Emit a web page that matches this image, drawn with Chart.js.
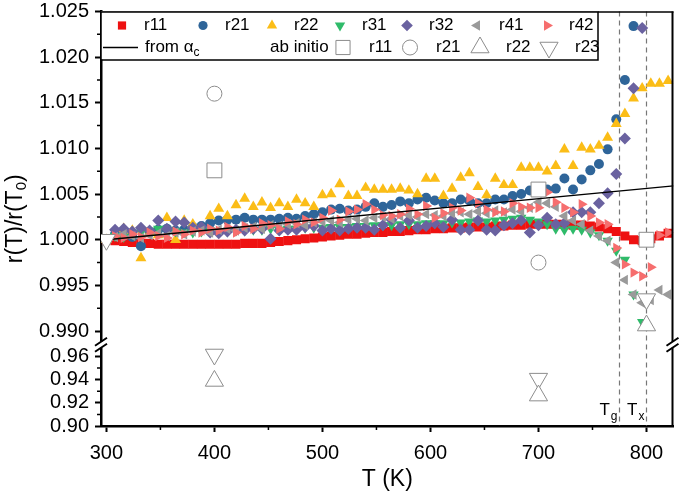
<!DOCTYPE html>
<html>
<head>
<meta charset="utf-8">
<script src="https://cdn.jsdelivr.net/npm/chart.js@4.4.1/dist/chart.umd.min.js"></script>
<style>
  html, body { margin: 0; background: #fff; }
  #wrap { width: 685px; height: 493px; }
</style>
</head>
<body>
<div id="wrap"><canvas id="chart"></canvas></div>
<script>
  // temperature grid of the measurements (K)
  const temps = [300, 308, 316, 324, 332, 340, 348, 356, 364, 372,
                 380, 388, 396, 404, 412, 420, 428, 436, 444, 452,
                 460, 468, 476, 484, 492, 500, 508, 516, 524, 532,
                 540, 548, 556, 564, 572, 580, 588, 596, 604, 612,
                 620, 628, 636, 644, 652, 660, 668, 676, 684, 692,
                 700, 708, 716, 724, 732, 740, 748, 756, 764, 772,
                 780, 788, 796, 804, 812, 820];

  const r11 = [1.0000, 0.9999, 0.9998, 0.9997, 0.9996, 0.9996, 0.9995, 0.9995, 0.9995, 0.9995,
               0.9995, 0.9995, 0.9995, 0.9995, 0.9995, 0.9995, 0.9996, 0.9996, 0.9996, 0.9997,
               0.9998, 0.9999, 1.0000, 1.0001, 1.0002, 1.0003, 1.0004, 1.0005, 1.0006, 1.0006,
               1.0007, 1.0008, 1.0008, 1.0009, 1.0009, 1.0010, 1.0011, 1.0011, 1.0012, 1.0012,
               1.0013, 1.0013, 1.0014, 1.0014, 1.0014, 1.0015, 1.0015, 1.0016, 1.0016, 1.0017,
               1.0017, 1.0017, 1.0017, 1.0017, 1.0016, 1.0016, 1.0015, 1.0014, 1.0012, 1.0009,
               1.0004, 1.0000, 0.9999, 1.0001, 1.0004, 1.0007];
  const r21 = [1.0000, 1.0006, 1.0004, 1.0003, 0.9993, 1.0008, 1.0011, 1.0012, 1.0010, 1.0011,
               1.0014, 1.0015, 1.0018, 1.0021, 1.0022, 1.0022, 1.0024, 1.0022, 1.0022, 1.0022,
               1.0023, 1.0024, 1.0023, 1.0026, 1.0028, 1.0030, 1.0033, 1.0034, 1.0032, 1.0033,
               1.0036, 1.0040, 1.0036, 1.0038, 1.0042, 1.0040, 1.0044, 1.0046, 1.0043, 1.0040,
               1.0040, 1.0044, 1.0043, 1.0040, 1.0040, 1.0044, 1.0044, 1.0048, 1.0050, 1.0054,
               1.0056, 1.0055, 1.0056, 1.0067, 1.0055, 1.0066, 1.0076, 1.0083, 1.0099, 1.0132,
               1.0175, 1.0234, null, null, null, null];
  const r22 = [1.0000, 1.0006, 1.0012, 1.0010, 0.9980, 1.0008, 1.0005, 1.0024, 1.0000, 1.0021,
               1.0017, 1.0012, 1.0026, 1.0034, 1.0026, 1.0038, 1.0045, 1.0036, 1.0041, 1.0035,
               1.0040, 1.0036, 1.0044, 1.0040, 1.0036, 1.0049, 1.0050, 1.0061, 1.0048, 1.0048,
               1.0057, 1.0055, 1.0055, 1.0055, 1.0056, 1.0054, 1.0050, 1.0067, 1.0067, 1.0048,
               1.0056, 1.0068, 1.0073, 1.0058, 1.0049, 1.0067, 1.0060, 1.0060, 1.0079, 1.0079,
               1.0079, 1.0075, 1.0081, 1.0099, 1.0081, 1.0101, 1.0099, 1.0103, 1.0112, 1.0127,
               1.0138, 1.0155, 1.0166, 1.0171, 1.0171, 1.0174];
  const r31 = [1.0000, 1.0004, 1.0003, 1.0006, 1.0008, 1.0010, 1.0012, 1.0011, 1.0009, 1.0008,
               1.0008, 1.0009, 1.0010, 1.0009, 1.0009, 1.0010, 1.0010, 1.0011, 1.0011, 1.0012,
               1.0011, 1.0012, 1.0012, 1.0013, 1.0013, 1.0013, 1.0014, 1.0014, 1.0014, 1.0015,
               1.0015, 1.0016, 1.0016, 1.0016, 1.0017, 1.0017, 1.0017, 1.0018, 1.0018, 1.0018,
               1.0019, 1.0019, 1.0020, 1.0021, 1.0020, 1.0021, 1.0022, 1.0023, 1.0024, 1.0022,
               1.0020, 1.0017, 1.0012, 1.0011, 1.0012, 1.0011, 1.0008, 1.0005, 0.9999, 0.9988,
               0.9978, 0.9940, 0.9910, null, null, null];
  const r32 = [1.0000, 1.0011, 1.0012, 1.0009, 1.0013, 1.0010, 1.0021, 1.0012, 1.0020, 1.0019,
               1.0013, 1.0014, 1.0008, 1.0007, 1.0009, 1.0011, 1.0010, 1.0012, 1.0012, 1.0001,
               1.0010, 1.0011, 1.0011, 1.0014, 1.0015, 1.0010, 1.0012, 1.0010, 1.0012, 1.0013,
               1.0013, 1.0011, 1.0016, 1.0022, 1.0013, 1.0021, 1.0013, 1.0015, 1.0018, 1.0014,
               1.0022, 1.0011, 1.0011, 1.0021, 1.0011, 1.0010, 1.0016, 1.0018, 1.0021, 1.0008,
               1.0016, 1.0024, 1.0017, 1.0018, 1.0030, 1.0030, 1.0030, 1.0040, 1.0051, 1.0072,
               1.0111, 1.0166, 1.0232, null, null, null];
  const r41 = [1.0000, 1.0003, 1.0006, 1.0004, 1.0002, 1.0005, 1.0007, 1.0004, 1.0008, 1.0006,
               1.0009, 1.0010, 1.0008, 1.0011, 1.0012, 1.0010, 1.0013, 1.0014, 1.0012, 1.0016,
               1.0015, 1.0017, 1.0018, 1.0016, 1.0019, 1.0020, 1.0021, 1.0019, 1.0022, 1.0023,
               1.0021, 1.0024, 1.0025, 1.0023, 1.0026, 1.0027, 1.0025, 1.0028, 1.0027, 1.0026,
               1.0029, 1.0030, 1.0028, 1.0031, 1.0029, 1.0032, 1.0030, 1.0033, 1.0031, 1.0035,
               1.0041, 1.0040, 1.0036, 1.0026, 1.0021, 1.0017, 1.0010, 1.0004, 0.9999, 0.9975,
               0.9956, 0.9940, 0.9931, 0.9934, 0.9945, 0.9940];
  const r42 = [1.0000, 1.0004, 1.0002, 1.0006, 1.0003, 1.0008, 1.0004, 1.0002, 1.0009, 1.0006,
               1.0010, 1.0008, 1.0012, 1.0010, 1.0014, 1.0008, 1.0015, 1.0012, 1.0018, 1.0016,
               1.0012, 1.0020, 1.0017, 1.0022, 1.0019, 1.0024, 1.0032, 1.0022, 1.0031, 1.0033,
               1.0039, 1.0033, 1.0027, 1.0026, 1.0028, 1.0034, 1.0028, 1.0037, 1.0024, 1.0029,
               1.0035, 1.0032, 1.0046, 1.0040, 1.0033, 1.0030, 1.0031, 1.0040, 1.0036, 1.0035,
               1.0035, 1.0052, 1.0041, 1.0035, 1.0030, 1.0039, 1.0026, 1.0019, 1.0017, 0.9991,
               0.9973, 0.9964, 0.9960, 0.9970, 1.0005, 1.0008];

  // line "from alpha_c"
  const alphaT = [300, 825];
  const alphaR = [1.0000, 1.0059];

  // ab initio values
  const abT11 = [400, 700, 800];      const abR11 = [1.0076, 1.0055, 1.0000];
  const abT21 = [400, 700];           const abR21 = [1.0160, 0.9975];
  const abT22 = [400, 700, 800];      const abR22 = [0.9388, 0.9262, 0.9906];
  const abT23 = [300, 400, 700, 800]; const abR23 = [1.0000, 0.9616, 0.9408, 0.9935];

  const xTicks = [300, 400, 500, 600, 700, 800];
  const xMinor = [350, 450, 550, 650, 750];
  const yTicksUp = [0.990, 0.995, 1.000, 1.005, 1.010, 1.015, 1.020, 1.025];
  const yMinorUp = [0.9925, 0.9975, 1.0025, 1.0075, 1.0125, 1.0175, 1.0225];
  const yTicksLow = [0.90, 0.92, 0.94, 0.96];
  const yMinorLow = [0.91, 0.93, 0.95];
  const markTemps = [775, 800];   // Tg, Tx

  const col = {
    r11: '#ee1111', r21: '#2f6599', r22: '#fbbd17', r31: '#2fbb6a',
    r32: '#6a62a0', r41: '#9a9a9a', r42: '#f66e6e', ab: '#8c8c8c'
  };
  const FONT = 'Arial, "Liberation Sans", sans-serif';
  const UP_MIN = 0.9885;

  function pts(ts, vs) {
    return ts.map((t, i) => ({ x: t, y: vs[i] })).filter(p => p.y !== null);
  }
  function upper(ts, vs) { return pts(ts, vs).filter(p => p.y >= UP_MIN); }
  function lower(ts, vs) { return pts(ts, vs).filter(p => p.y < UP_MIN); }

  function series(data, color, style, radius, rotation) {
    return {
      data: data, yAxisID: 'y',
      pointStyle: style, pointRadius: radius, pointRotation: rotation || 0,
      pointBackgroundColor: color, pointBorderColor: color, pointBorderWidth: 0,
      showLine: false
    };
  }
  function abSeries(data, axis, style, radius, rotation) {
    return {
      data: data, yAxisID: axis,
      pointStyle: style, pointRadius: radius, pointRotation: rotation || 0,
      pointBackgroundColor: '#fff', pointBorderColor: col.ab, pointBorderWidth: 1,
      showLine: false
    };
  }

  const datasets = [
    abSeries(upper(abT11, abR11), 'y', 'rect', 10.5),
    abSeries(upper(abT21, abR21), 'y', 'circle', 7.5),
    abSeries(upper(abT22, abR22), 'y', 'triangle', 10.5),
    abSeries(lower(abT22, abR22), 'yLow', 'triangle', 10.5),
    abSeries(upper(abT23, abR23), 'y', 'triangle', 10.5, 180),
    abSeries(lower(abT23, abR23), 'yLow', 'triangle', 10.5, 180),
    {
      data: pts(alphaT, alphaR), yAxisID: 'y', showLine: true,
      borderColor: '#000', borderWidth: 1.3, pointRadius: 0
    },
    series(pts(temps, r42), col.r42, 'triangle', 6, 90),
    series(pts(temps, r41), col.r41, 'triangle', 6, -90),
    series(pts(temps, r32), col.r32, 'rectRot', 6),
    series(pts(temps, r31), col.r31, 'triangle', 6, 180),
    series(pts(temps, r22), col.r22, 'triangle', 6.3),
    series(pts(temps, r21), col.r21, 'circle', 5),
    series(pts(temps, r11), col.r11, 'rect', 6.4)
  ];

  function setTicks(list) {
    return function (scale) { scale.ticks = list.map(v => ({ value: v })); };
  }
  function fitY(s) {
    s.width = 101;
    s.paddingTop = 0;
    s.paddingBottom = 0;
  }

  const axisGrid = { drawOnChartArea: false, drawTicks: true, tickLength: 6, tickWidth: 2, tickColor: '#000' };
  const axisBorder = { display: true, color: '#000', width: 2.5 };

  const decor = {
    id: 'decor',
    beforeDatasetsDraw(chart) {
      const { ctx, chartArea: a, scales } = chart;
      ctx.save();
      ctx.strokeStyle = '#777';
      ctx.lineWidth = 1.2;
      ctx.setLineDash([5, 4]);
      markTemps.forEach(t => {
        const px = Math.round(scales.x.getPixelForValue(t)) + 0.5;
        ctx.beginPath();
        ctx.moveTo(px, a.top);
        ctx.lineTo(px, a.bottom);
        ctx.stroke();
      });
      ctx.restore();
    },
    afterDraw(chart) {
      const { ctx, chartArea: a, scales } = chart;
      const x = scales.x, yU = scales.y, yL = scales.yLow;
      const helpers = Chart.helpers;
      ctx.save();

      // frame top and right
      ctx.strokeStyle = '#000';
      ctx.lineWidth = 1.5;
      ctx.beginPath();
      ctx.moveTo(a.left, a.top + 0.5);
      ctx.lineTo(a.right, a.top + 0.5);
      ctx.stroke();
      ctx.lineWidth = 2;
      ctx.beginPath();
      ctx.moveTo(a.right - 1, a.top);
      ctx.lineTo(a.right - 1, a.bottom);
      ctx.stroke();

      // minor ticks
      ctx.lineWidth = 1.5;
      ctx.beginPath();
      yMinorUp.forEach(v => { const p = yU.getPixelForValue(v); ctx.moveTo(a.left - 4, p); ctx.lineTo(a.left, p); });
      yMinorLow.forEach(v => { const p = yL.getPixelForValue(v); ctx.moveTo(a.left - 4, p); ctx.lineTo(a.left, p); });
      xMinor.forEach(v => { const p = x.getPixelForValue(v); ctx.moveTo(p, a.bottom); ctx.lineTo(p, a.bottom + 4); });
      ctx.stroke();

      // axis breaks
      const by = yU.bottom;
      [a.left, a.right - 1].forEach(bx => {
        ctx.fillStyle = '#fff';
        ctx.fillRect(bx - 3, by - 3, 6, 6);
        ctx.strokeStyle = '#000';
        ctx.lineWidth = 2;
        ctx.beginPath();
        ctx.moveTo(bx - 6, by + 1); ctx.lineTo(bx + 6, by - 7);
        ctx.moveTo(bx - 6, by + 7); ctx.lineTo(bx + 6, by - 1);
        ctx.stroke();
      });

      // Tg / Tx labels
      ctx.fillStyle = '#000';
      ctx.textBaseline = 'alphabetic';
      const subs = ['g', 'x'];
      markTemps.forEach((t, i) => {
        const px = x.getPixelForValue(t);
        ctx.font = '17px ' + FONT;
        const wT = ctx.measureText('T').width;
        ctx.font = '12px ' + FONT;
        const wS = ctx.measureText(subs[i]).width;
        const start = px - 3 - wT - wS;
        ctx.font = '17px ' + FONT;
        ctx.fillText('T', start, a.bottom - 11);
        ctx.font = '12px ' + FONT;
        ctx.fillText(subs[i], start + wT + 1, a.bottom - 6);
      });

      // y axis title
      ctx.save();
      ctx.translate(16, (a.top + a.bottom) / 2);
      ctx.rotate(-Math.PI / 2);
      ctx.font = '23px ' + FONT;
      const m1 = ctx.measureText('r(T)/r(T').width;
      const m3 = ctx.measureText(')').width;
      ctx.font = '15px ' + FONT;
      const m2 = ctx.measureText('0').width;
      let sx = -(m1 + m2 + m3) / 2;
      ctx.textBaseline = 'middle';
      ctx.font = '23px ' + FONT;
      ctx.fillText('r(T)/r(T', sx, 0);
      ctx.font = '15px ' + FONT;
      ctx.fillText('0', sx + m1, 6);
      ctx.font = '23px ' + FONT;
      ctx.fillText(')', sx + m1 + m2, 0);
      ctx.restore();

      // legend box
      const lx = a.left, ly = a.top, lw = 497, lh = 48;
      ctx.fillStyle = '#fff';
      ctx.fillRect(lx, ly, lw, lh);
      ctx.strokeStyle = '#000';
      ctx.lineWidth = 1.5;
      ctx.strokeRect(lx, ly + 0.5, lw, lh);

      const row1 = [
        ['r11', col.r11, 'rect', 5.8, 0, 122],
        ['r21', col.r21, 'circle', 4.6, 0, 203],
        ['r22', col.r22, 'triangle', 6, 0, 272],
        ['r31', col.r31, 'triangle', 6, 180, 340],
        ['r32', col.r32, 'rectRot', 5.8, 0, 407],
        ['r41', col.r41, 'triangle', 6, -90, 477],
        ['r42', col.r42, 'triangle', 6, 90, 547]
      ];
      const row2 = [
        ['r11', 'rect', 10, 0, 343],
        ['r21', 'circle', 7.5, 0, 410],
        ['r22', 'triangle', 10.5, 0, 480],
        ['r23', 'triangle', 10.5, 180, 549]
      ];
      const y1 = ly + 14, y2 = ly + 36;
      ctx.textBaseline = 'middle';
      ctx.font = '17px ' + FONT;
      row1.forEach(([lab, c, st, r, rot, mx]) => {
        ctx.fillStyle = c;
        ctx.strokeStyle = c;
        helpers.drawPoint(ctx, { pointStyle: st, radius: r, rotation: rot, borderWidth: 0 }, mx, y1);
        ctx.fillStyle = '#000';
        ctx.fillText(lab, mx + 22, y1);
      });
      row2.forEach(([lab, st, r, rot, mx]) => {
        ctx.fillStyle = '#fff';
        ctx.strokeStyle = col.ab;
        ctx.lineWidth = 1;
        helpers.drawPoint(ctx, { pointStyle: st, radius: r, rotation: rot, borderWidth: 1 }, mx, y2);
        ctx.fillStyle = '#000';
        ctx.fillText(lab, mx + 26, y2);
      });
      ctx.strokeStyle = '#000';
      ctx.lineWidth = 1.3;
      ctx.beginPath();
      ctx.moveTo(lx + 2, y2);
      ctx.lineTo(lx + 37, y2);
      ctx.stroke();
      ctx.fillStyle = '#000';
      ctx.fillText('from \u03B1', lx + 44, y2);
      const wa = ctx.measureText('from \u03B1').width;
      ctx.font = '12px ' + FONT;
      ctx.fillText('c', lx + 44 + wa, y2 + 5);
      ctx.font = '17px ' + FONT;
      ctx.fillText('ab initio', 270, y2);

      ctx.restore();
    }
  };

  new Chart(document.getElementById('chart'), {
    type: 'scatter',
    data: { datasets: datasets },
    options: {
      responsive: true,
      maintainAspectRatio: false,
      animation: false,
      layout: { padding: { top: 8, right: 5, left: 0, bottom: 0 } },
      plugins: { legend: { display: false }, tooltip: { enabled: false } },
      scales: {
        x: {
          type: 'linear', position: 'bottom', min: 295, max: 825,
          afterBuildTicks: setTicks(xTicks),
          afterFit: s => { s.height = 67; },
          grid: axisGrid, border: axisBorder,
          ticks: { color: '#000', font: { size: 20, family: FONT }, padding: 9, maxRotation: 0, autoSkip: false },
          title: { display: true, text: 'T (K)', color: '#000', font: { size: 23, family: FONT }, padding: { top: 0, bottom: 0 } }
        },
        yLow: {
          type: 'linear', position: 'left', stack: 'v', stackWeight: 1,
          min: 0.90, max: 0.97,
          afterBuildTicks: setTicks(yTicksLow),
          afterFit: fitY,
          grid: axisGrid, border: axisBorder,
          ticks: { color: '#000', font: { size: 20, family: FONT }, padding: 6, autoSkip: false, callback: v => v.toFixed(2) }
        },
        y: {
          type: 'linear', position: 'left', stack: 'v', stackWeight: 4.1,
          min: UP_MIN, max: 1.025,
          afterBuildTicks: setTicks(yTicksUp),
          afterFit: fitY,
          grid: axisGrid, border: axisBorder,
          ticks: { color: '#000', font: { size: 20, family: FONT }, padding: 6, autoSkip: false, callback: v => v.toFixed(3) }
        }
      }
    },
    plugins: [decor]
  });
</script>
</body>
</html>
